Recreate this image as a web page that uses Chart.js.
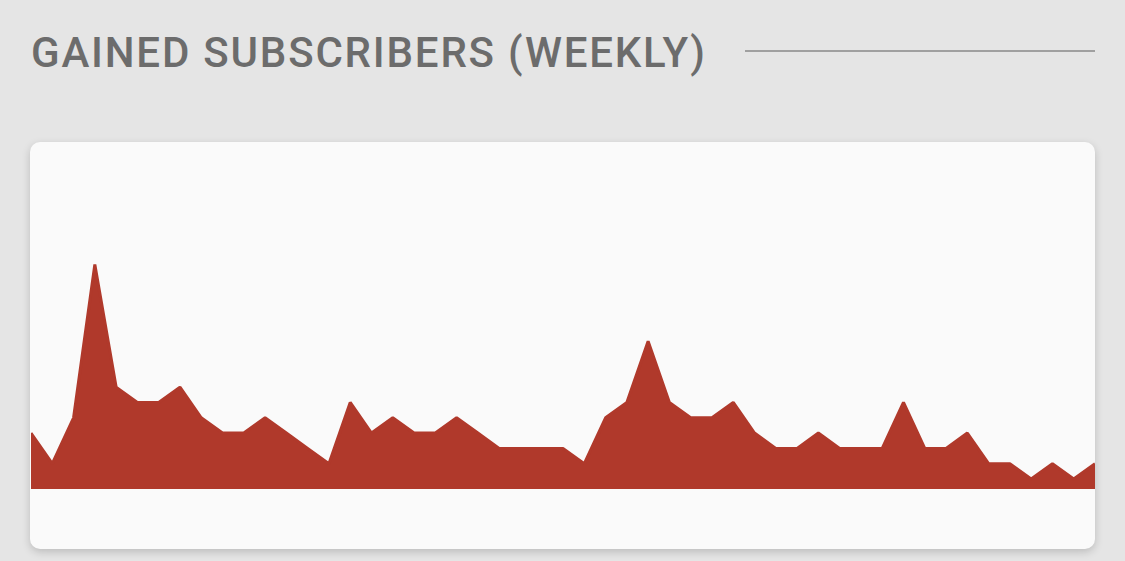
<!DOCTYPE html>
<html>
<head>
<meta charset="utf-8">
<script src="https://cdn.jsdelivr.net/npm/chart.js@4"></script>
<style>
  html, body { margin: 0; padding: 0; }
  body {
    width: 1125px; height: 561px; overflow: hidden;
    background: #e5e5e5;
    font-family: Roboto, "Noto Sans", sans-serif;
    position: relative;
  }
  .title {
    position: absolute; left: 31px; top: 25px;
    font-size: 42px; font-weight: 500; color: #6c6c6c;
    letter-spacing: 1.8px; white-space: nowrap; line-height: 56px;
  }
  .rule {
    position: absolute; left: 745px; top: 50px; width: 350px; height: 2px;
    background: #a0a0a0;
  }
  .card {
    position: absolute; left: 30px; top: 142px; width: 1065px; height: 407px;
    background: #fafafa; border-radius: 10px;
    box-shadow: 0 3px 8px rgba(0,0,0,0.18);
    overflow: hidden;
  }
  .chart-box { position: absolute; left: 1px; top: 0; width: 1064px; height: 347px; }
</style>
</head>
<body>
<div class="title">GAINED SUBSCRIBERS (WEEKLY)</div>
<div class="rule"></div>
<div class="card">
  <div class="chart-box"><canvas id="subsChart"></canvas></div>
</div>
<script>
// weekly gained subscribers
const weeks = [];
for (let i = 1; i <= 51; i++) weeks.push('W' + i);

const gained = [
  4, 2, 5, 15, 7, 6, 6, 7, 5, 4,
  4, 5, 4, 3, 2, 6, 4, 5, 4, 4,
  5, 4, 3, 3, 3, 3, 2, 5, 6, 10,
  6, 5, 5, 6, 4, 3, 3, 4, 3, 3,
  3, 6, 3, 3, 4, 2, 2, 1, 2, 1,
  2
];

const barColor = '#b0392b';

function drawSubsChart() {
  let ctx = document.getElementById('subsChart').getContext('2d');

  let chart = new Chart(ctx, {
    type: 'line',
    data: {
      labels: weeks,
      datasets: [{
        label: 'Gained subscribers',
        data: gained,
        backgroundColor: barColor,
        borderColor: barColor,
        borderWidth: 3,
        borderJoinStyle: 'bevel',
        fill: 'start',
        tension: 0,
        pointRadius: 0
      }]
    },
    options: {
      responsive: true,
      maintainAspectRatio: false,
      animation: false,
      layout: { padding: 0 },
      plugins: { legend: { display: false }, tooltip: { enabled: false } },
      scales: {
        x: { display: false, offset: false },
        y: { display: false, min: 0.35, max: 23 }
      }
    }
  });
}

drawSubsChart();
</script>
</body>
</html>
